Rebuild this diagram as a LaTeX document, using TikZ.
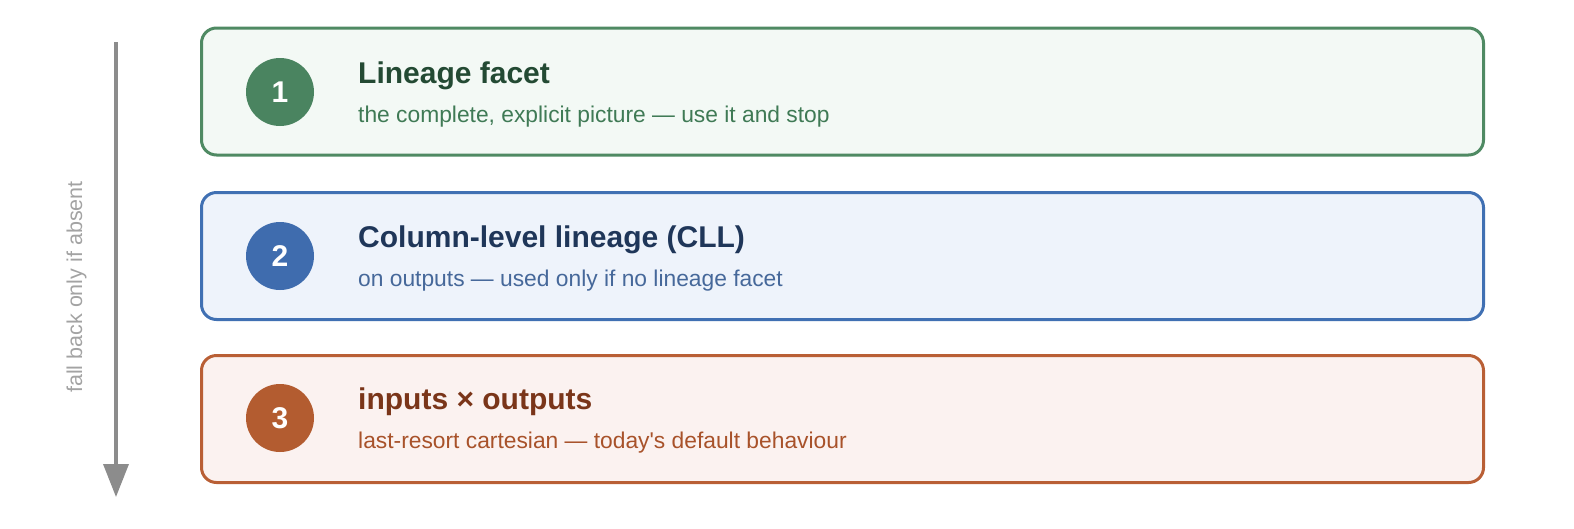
\documentclass[tikz,border=0pt]{standalone}
\usepackage{fontspec}
\setmainfont{Liberation Sans}
\usetikzlibrary{arrows.meta}
\definecolor{gline}{HTML}{4F8A63}
\definecolor{gfill}{HTML}{F3F9F5}
\definecolor{gdot}{HTML}{4A8460}
\definecolor{gtitle}{HTML}{234A33}
\definecolor{gsub}{HTML}{3F7A55}
\definecolor{bline}{HTML}{4070B3}
\definecolor{bfill}{HTML}{EEF3FB}
\definecolor{bdot}{HTML}{3F6CAE}
\definecolor{btitle}{HTML}{1F3659}
\definecolor{bsub}{HTML}{46689A}
\definecolor{oline}{HTML}{B95F35}
\definecolor{ofill}{HTML}{FBF2F0}
\definecolor{odot}{HTML}{B35C30}
\definecolor{otitle}{HTML}{7A3519}
\definecolor{osub}{HTML}{A8522A}
\definecolor{arrowgray}{HTML}{8C8C8C}
\definecolor{sidegray}{HTML}{A3A3A3}
\begin{document}
\begin{tikzpicture}[x=1pt,y=-1pt]
		\tikzstyle{layer}=[rectangle,rounded corners=15pt,line width=3pt,minimum width=1282pt,minimum height=127pt]
		\tikzstyle{num}=[circle,minimum size=68pt,inner sep=0pt,text=white,font=\fontsize{30}{34}\selectfont\bfseries]
		\tikzstyle{title}=[anchor=base west,inner sep=0pt,font=\fontsize{30}{34}\selectfont\bfseries]
		\tikzstyle{sub}=[anchor=base west,inner sep=0pt,font=\fontsize{22.8}{26}\selectfont]
		\useasboundingbox (0,0) rectangle (1574,528);
		\coordinate (top) at (116,42);
		\coordinate (bot) at (116,497);
		\draw[arrowgray,line width=3.6pt,-{Triangle[width=25pt,length=33pt]}] (top) -- (bot);
		\node[rotate=90,anchor=base,text=sidegray,font=\fontsize{21.5}{26}\selectfont](side)at(82,287){fall back only if absent};
		\node[layer,draw=gline,fill=gfill](l1)at(842.5,91.5){};
		\node[layer,draw=bline,fill=bfill](l2)at(842.5,256){};
		\node[layer,draw=oline,fill=ofill](l3)at(842.5,419){};
		\node[num,fill=gdot](n1)at(280,92){1};
		\node[num,fill=bdot](n2)at(280,256){2};
		\node[num,fill=odot](n3)at(280,418){3};
		\node[title,text=gtitle](t1)at(358,83){Lineage facet};
		\node[sub,text=gsub](s1)at(358,122){the complete, explicit picture — use it and stop};
		\node[title,text=btitle](t2)at(358,247){Column-level lineage (CLL)};
		\node[sub,text=bsub](s2)at(358,286){on outputs — used only if no lineage facet};
		\node[title,text=otitle](t3)at(358,409){inputs × outputs};
		\node[sub,text=osub](s3)at(358,448){last-resort cartesian — today\textquotesingle s default behaviour};
		\end{tikzpicture}
\end{document}
